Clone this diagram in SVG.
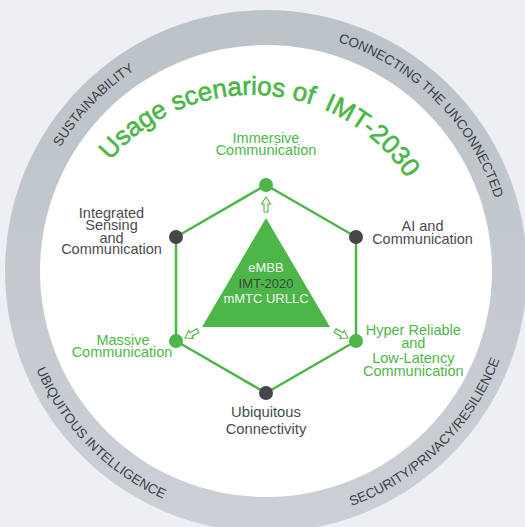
<svg xmlns="http://www.w3.org/2000/svg" xmlns:xlink="http://www.w3.org/1999/xlink" width="525" height="527" viewBox="0 0 525 527">
<style>
.lbl{font-family:"Liberation Sans",Arial,sans-serif;font-size:14.5px;text-anchor:middle}
.dk{fill:#4a4b4e}
.gr{fill:#4cb748}
.ring{font-family:"Liberation Sans",Arial,sans-serif;font-size:13.5px;fill:#3b3f44;text-anchor:middle}
.title{font-family:"Liberation Sans",Arial,sans-serif;font-size:26px;fill:#4cb748;stroke:#4cb748;stroke-width:0.6;text-anchor:middle}
.edge{stroke:#4cb748;stroke-width:2.5;fill:none}
.arr{fill:#fff;stroke:#4cb748;stroke-width:1.1;stroke-linejoin:miter}
.tri{font-family:"Liberation Sans",Arial,sans-serif;font-size:13px;text-anchor:middle}
</style>
<defs>
<linearGradient id="rg" x1="0" y1="0" x2="0" y2="1">
<stop offset="0" stop-color="#bcc3c8"/>
<stop offset="1" stop-color="#cbd0d6"/>
</linearGradient>
<path id="topArc" d="M 26 271 A 240 240 0 0 1 506 271"/>
<path id="botArc" d="M 16 271 A 250 250 0 0 0 516 271"/>
<path id="titleArc" d="M 72 237.1 A 185 185 0 0 1 435.8 258.7"/>
<path id="arrow" d="M0 0 L4.5 7 L2 7 L2 15 L-2 15 L-2 7 L-4.5 7 Z"/>
</defs>
<rect width="525" height="527" fill="#edeff2"/>
<circle cx="266" cy="271" r="261" fill="url(#rg)"/>
<circle cx="266" cy="271" r="226" fill="#ffffff"/>
<g id="ring-labels">
<text class="ring"><textPath xlink:href="#topArc" href="#topArc" startOffset="184">SUSTAINABILITY</textPath></text>
<text class="ring"><textPath xlink:href="#topArc" href="#topArc" startOffset="565">CONNECTING THE UNCONNECTED</textPath></text>
<text class="ring"><textPath xlink:href="#botArc" href="#botArc" startOffset="194">UBIQUITOUS INTELLIGENCE</textPath></text>
<text class="ring"><textPath xlink:href="#botArc" href="#botArc" startOffset="587">SECURITY/PRIVACY/RESILIENCE</textPath></text>
</g>
<g id="title">
<text class="title"><textPath xlink:href="#titleArc" href="#titleArc" startOffset="50%">Usage scenarios of <tspan dx="5">IMT-2030</tspan></textPath></text>
</g>
<g id="connectors">
<line class="edge" x1="266" y1="185" x2="356" y2="237"/>
<line class="edge" x1="356" y1="237" x2="356" y2="341"/>
<line class="edge" x1="356" y1="341" x2="266" y2="393"/>
<line class="edge" x1="266" y1="393" x2="176" y2="341"/>
<line class="edge" x1="176" y1="341" x2="176" y2="237"/>
<line class="edge" x1="176" y1="237" x2="266" y2="185"/>
<use href="#arrow" xlink:href="#arrow" class="arr" transform="translate(266,197)"/>
<use href="#arrow" xlink:href="#arrow" class="arr" transform="translate(185,338) rotate(-120)"/>
<use href="#arrow" xlink:href="#arrow" class="arr" transform="translate(348,338) rotate(120)"/>
</g>
<g id="core">
<polygon points="266,218 330,327 202,327" fill="#4cb748"/>
<text class="tri" x="266" y="272" fill="#f4f6f4">eMBB</text>
<text class="tri" x="266" y="287.5" fill="#3a4a39">IMT-2020</text>
<text class="tri" x="266" y="303" fill="#f4f6f4">mMTC URLLC</text>
</g>
<g id="immersive">
<circle cx="266" cy="185" r="7" fill="#4cb748"/>
<text class="lbl gr" x="266" y="143">Immersive</text>
<text class="lbl gr" x="266" y="154.5">Communication</text>
</g>
<g id="ai">
<circle cx="356" cy="237" r="7" fill="#45464a"/>
<text class="lbl dk" x="422.5" y="230.7">AI and</text>
<text class="lbl dk" x="422.5" y="244">Communication</text>
</g>
<g id="hrllc">
<circle cx="356" cy="341" r="7" fill="#4cb748"/>
<text class="lbl gr" x="413.3" y="335">Hyper Reliable</text>
<text class="lbl gr" x="413.3" y="348.3">and</text>
<text class="lbl gr" x="413.3" y="362.5">Low-Latency</text>
<text class="lbl gr" x="413.3" y="376">Communication</text>
</g>
<g id="ubiquitous">
<circle cx="266" cy="393" r="7" fill="#45464a"/>
<text class="lbl dk" x="266" y="416.7" style="font-size:14.8px">Ubiquitous</text>
<text class="lbl dk" x="266" y="434.3" style="font-size:14.8px">Connectivity</text>
</g>
<g id="massive">
<circle cx="176" cy="341" r="7" fill="#4cb748"/>
<text class="lbl gr" x="123" y="345">Massive</text>
<text class="lbl gr" x="122" y="356.7">Communication</text>
</g>
<g id="isac">
<circle cx="176" cy="237" r="7" fill="#45464a"/>
<text class="lbl dk" x="111.5" y="218.3">Integrated</text>
<text class="lbl dk" x="111.5" y="230">Sensing</text>
<text class="lbl dk" x="111.5" y="242.7">and</text>
<text class="lbl dk" x="111.5" y="254.3">Communication</text>
</g>
</svg>
